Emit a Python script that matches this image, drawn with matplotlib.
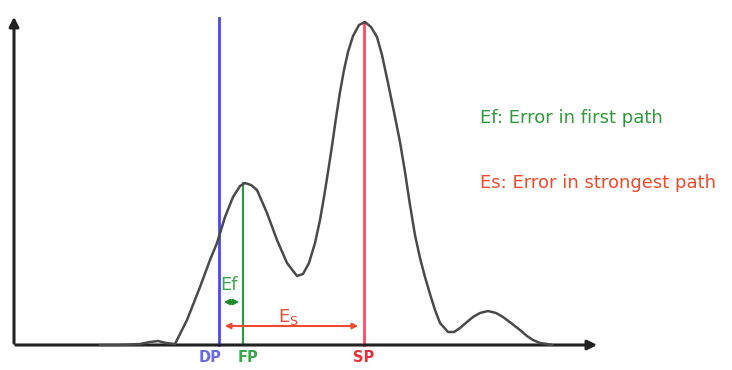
import matplotlib.pyplot as plt

# channel impulse response profile (x in pixel-like units, y = depth from top)
curve_x = [100, 120, 140, 150, 158, 166, 175, 187, 200, 210, 217, 225, 233, 240, 245,
           251, 257, 267, 277, 287, 297, 303, 309, 315, 320, 324, 328, 332, 336, 340,
           344, 348, 353, 359, 365, 371, 377, 382, 388, 394, 400, 405, 410, 415, 420,
           425, 430, 435, 440, 448, 454, 460, 467, 473, 480, 488, 496, 503, 511, 520,
           527, 533, 540, 547, 552]
curve_y = [345, 345, 344, 342, 341, 343, 344, 320, 287, 260, 243, 217, 197, 186, 183,
           185, 190, 213, 240, 263, 276, 274, 263, 243, 220, 197, 172, 146, 118, 92,
           70, 52, 36, 25, 22, 27, 37, 55, 83, 112, 142, 172, 205, 235, 258,
           277, 294, 310, 323, 332, 332, 328, 322, 317, 313, 311, 313, 317, 323, 330,
           336, 340, 343, 344, 345]

# path positions
dp_x = 219
fp_x = 243
sp_x = 364
path_labels = ['DP', 'FP', 'SP']

base_y = 345
origin_x = 14

fig = plt.figure(figsize=(7.32, 3.70), dpi=100)
ax = fig.add_axes([0, 0, 1, 1])
ax.set_xlim(0, 732)
ax.set_ylim(370, 0)
ax.axis('off')

# axes with arrows
ax.annotate('', xy=(origin_x, 14), xytext=(origin_x, base_y + 1),
            arrowprops=dict(arrowstyle='-|>', color='#222222', lw=2.2, mutation_scale=14))
ax.annotate('', xy=(600, base_y), xytext=(origin_x - 1, base_y),
            arrowprops=dict(arrowstyle='-|>', color='#222222', lw=2.2, mutation_scale=14))

# vertical path lines
ax.plot([dp_x, dp_x], [18, base_y], color='#4a4ae8', lw=2)
ax.plot([fp_x, fp_x], [curve_y[curve_x.index(245)], base_y], color='#2e9a4a', lw=1.6)
ax.plot([sp_x, sp_x], [min(curve_y), base_y], color='#ff4a68', lw=2)

# response curve
ax.plot(curve_x, curve_y, color='#4a4a4a', lw=1.8, zorder=3, solid_joinstyle='round')

# error arrows
ax.annotate('', xy=(fp_x - 1, 302), xytext=(dp_x + 2, 302),
            arrowprops=dict(arrowstyle='<|-|>', color='#1f8a2a', lw=1.5, mutation_scale=8))
ax.text(dp_x + 1, 285, 'Ef', color='#3aa84a', fontsize=13, va='center', ha='left')
ax.annotate('', xy=(sp_x - 3, 326), xytext=(dp_x + 3, 326),
            arrowprops=dict(arrowstyle='<|-|>', color='#f04a30', lw=1.5, mutation_scale=8))
ax.text(278, 317, 'E$_\\mathregular{S}$', color='#f04a30', fontsize=13, va='center', ha='left')

# x labels
ax.text(dp_x - 9, 358, path_labels[0], color='#6a6ae8', fontsize=10.5, weight='bold',
        ha='center', va='center')
ax.text(fp_x + 5, 358, path_labels[1], color='#3aa84a', fontsize=10.5, weight='bold',
        ha='center', va='center')
ax.text(sp_x, 358, path_labels[2], color='#e8303a', fontsize=10.5, weight='bold',
        ha='center', va='center')

# legend text
ax.text(480, 118, 'Ef: Error in first path', color='#2e9a3a', fontsize=13, va='center')
ax.text(480, 183, 'Es: Error in strongest path', color='#f04a2a', fontsize=13, va='center')

plt.savefig('out.png', dpi=100)
plt.close()
